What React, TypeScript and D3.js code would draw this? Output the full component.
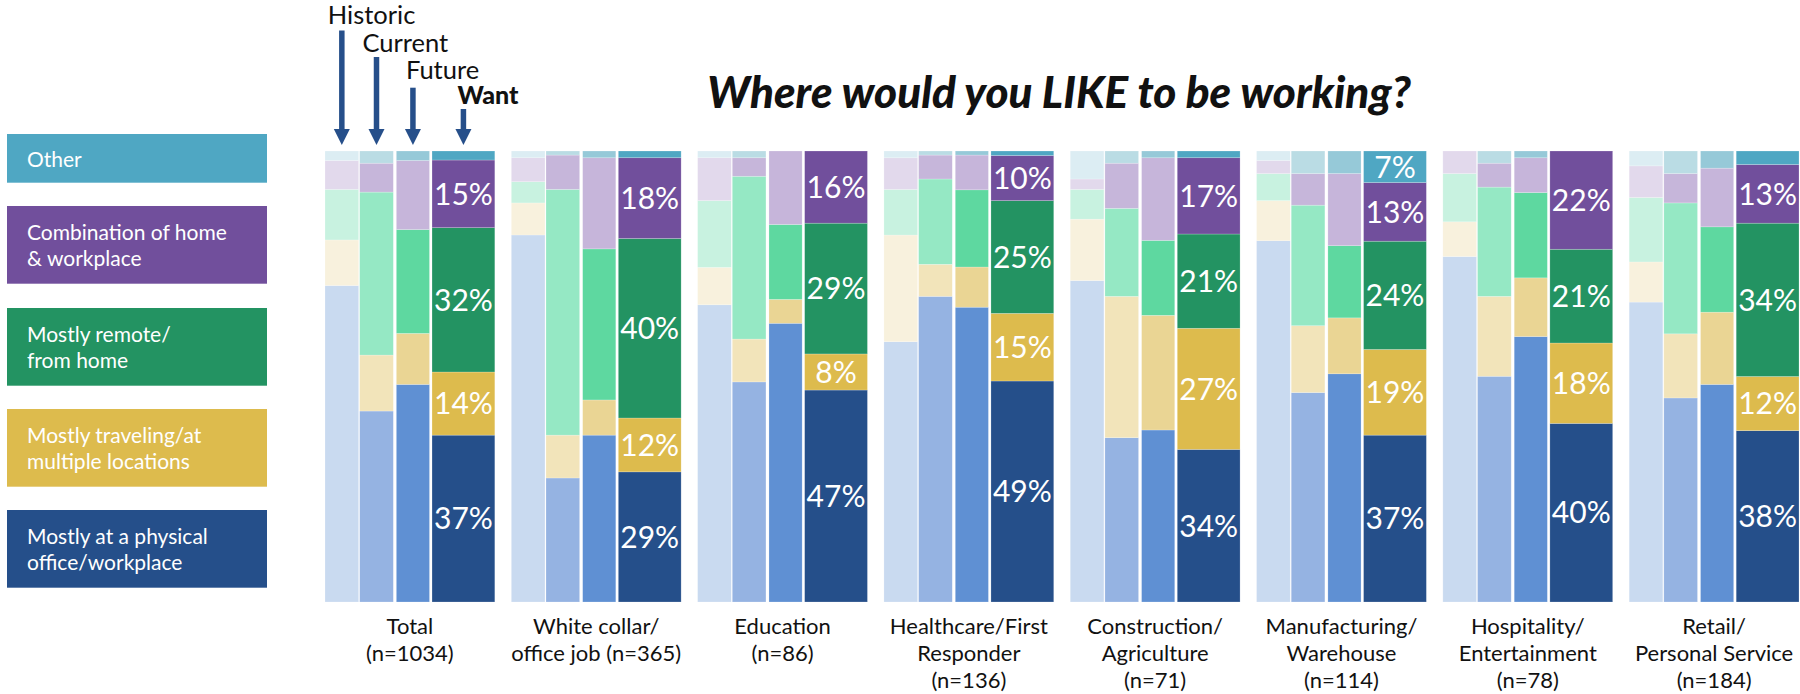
import React from "react";
import * as d3 from "d3";

// Categories (order left to right)
const categories = [
  "Total",
  "White collar",
  "Education",
  "Healthcare",
  "Construction",
  "Manufacturing",
  "Hospitality",
  "Retail",
];
const categoryLabels = [
  ["Total", "(n=1034)"],
  ["White collar/", "office job (n=365)"],
  ["Education", "(n=86)"],
  ["Healthcare/First", "Responder", "(n=136)"],
  ["Construction/", "Agriculture", "(n=71)"],
  ["Manufacturing/", "Warehouse", "(n=114)"],
  ["Hospitality/", "Entertainment", "(n=78)"],
  ["Retail/", "Personal Service", "(n=184)"],
];

const periods = ["Historic", "Current", "Future", "Want"];
// stacking order bottom -> top
const responses = ["Office", "Traveling", "Remote", "Combination", "Other"];
const legendLabels = [
  ["Mostly at a physical", "office/workplace"],
  ["Mostly traveling/at", "multiple locations"],
  ["Mostly remote/", "from home"],
  ["Combination of home", "& workplace"],
  ["Other"],
];

// Values (% of respondents) per category
const historicOffice = [70.1, 81.3, 65.9, 57.6, 71.2, 80.1, 76.6, 66.5];
const historicTraveling = [10.1, 7.1, 8.3, 23.6, 13.6, 8.9, 7.7, 8.9];
const historicRemote = [11.2, 4.7, 14.8, 10.1, 6.6, 6.0, 10.7, 14.3];
const historicCombination = [6.4, 5.3, 9.5, 7.0, 2.3, 2.9, 5.0, 7.0];
const historicOther = [2.1, 1.5, 1.5, 1.5, 6.2, 2.1, 0, 3.3];

const currentOffice = [42.3, 27.5, 48.8, 67.7, 36.4, 46.4, 50.0, 45.2];
const currentTraveling = [12.4, 9.5, 9.5, 7.1, 31.3, 14.8, 17.7, 14.2];
const currentRemote = [36.1, 54.5, 36.1, 18.9, 19.5, 26.7, 24.2, 29.0];
const currentCombination = [6.4, 7.6, 4.1, 5.3, 10.0, 7.0, 5.3, 6.5];
const currentOther = [2.7, 0.9, 1.5, 0.9, 2.7, 5.0, 2.7, 5.0];

const futureOffice = [48.2, 37.0, 61.8, 65.3, 38.1, 50.6, 58.8, 48.2];
const futureTraveling = [11.3, 7.8, 5.3, 8.9, 25.4, 12.4, 13.0, 16.0];
const futureRemote = [23.0, 33.5, 16.6, 17.1, 16.6, 16.0, 18.9, 18.9];
const futureCombination = [15.3, 20.2, 16.3, 7.7, 18.3, 16.0, 7.7, 13.0];
const futureOther = [2.1, 1.5, 0, 0.9, 1.5, 5.0, 1.5, 3.8];

const wantOffice = [37, 29, 47, 49, 34, 37, 40, 38];
const wantTraveling = [14, 12, 8, 15, 27, 19, 18, 12];
const wantRemote = [32, 40, 29, 25, 21, 24, 21, 34];
const wantCombination = [15, 18, 16, 10, 17, 13, 22, 13];
const wantOther = [2, 1.5, 0, 1, 1.5, 7, 0, 3];

const seriesByPeriod: Record<string, number[][]> = {
  Historic: [historicOffice, historicTraveling, historicRemote, historicCombination, historicOther],
  Current: [currentOffice, currentTraveling, currentRemote, currentCombination, currentOther],
  Future: [futureOffice, futureTraveling, futureRemote, futureCombination, futureOther],
  Want: [wantOffice, wantTraveling, wantRemote, wantCombination, wantOther],
};

// Colours (period x response)
const colors: Record<string, string[]> = {
  Historic: ["#C9DAF0", "#F8F1DD", "#C8F2E0", "#E2D9EC", "#DCEDF3"],
  Current: ["#95B3E2", "#F2E4BA", "#95E8C4", "#C6B6DA", "#BADCE4"],
  Future: ["#5F90D3", "#EAD594", "#5ED8A0", "#C6B5DA", "#96C9D8"],
  Want: ["#254F8A", "#DDBB4D", "#239362", "#714F9C", "#4FA7C3"],
};

// layout of the four bars inside a group (in px of a 169px group)
const periodOffsets = [0, 34.5, 71, 106.5];
const periodWidths = [33.5, 33.5, 33, 62.5];
const annotationDx = [-14, -14, -7, -6];
const annotationBaselines = [23.5, 52, 78.5, 104];
const arrowTops = [30.5, 57, 87.7, 109];

const FONT = "Lato, 'Open Sans', sans-serif";
const ARROW = "#264F8A";

export default function App() {
  const width = 1800;
  const height = 694;
  const x = d3
    .scaleBand<string>()
    .domain(categories)
    .range([325, 1799])
    .paddingInner(0.0885)
    .paddingOuter(0);
  const bw = x.bandwidth();
  const k = bw / 169;
  const y = d3.scaleLinear().domain([0, 1]).range([602, 151]);

  const stacked = periods.map((p) => {
    const rows = categories.map((c, i) => {
      const r: any = { category: c };
      responses.forEach((key, j) => (r[key] = seriesByPeriod[p][j][i]));
      return r;
    });
    return d3.stack<any>().keys(responses).offset(d3.stackOffsetExpand)(rows);
  });

  const barX = (cat: string, pi: number) => (x(cat) as number) + periodOffsets[pi] * k;

  // legend boxes
  const legendTop = [510, 409, 308, 206, 134];
  const legendH = [77.7, 77.7, 77.7, 77.7, 48.7];

  return (
    <div>
      <style>{`body{margin:0}`}</style>
      <svg width={width} height={height} style={{ display: "block", background: "#fff" }}>
        {/* Title */}
        <text
          x={1059}
          y={108}
          textAnchor="middle"
          fontFamily={FONT}
          fontWeight={900}
          fontStyle="italic"
          fontSize={44}
          fill="#111"
        >
          Where would you LIKE to be working?
        </text>

        {/* Legend */}
        {responses.map((r, j) => {
          const top = legendTop[j];
          const h = legendH[j];
          const c = top + h / 2;
          const lines = legendLabels[j];
          return (
            <g key={r}>
              <rect x={7} y={top} width={260} height={h} fill={colors.Want[j]} />
              {lines.map((t, li) => (
                <text
                  key={li}
                  x={27}
                  y={lines.length === 1 ? c + 9 : c - 5 + li * 26.6}
                  fontFamily={FONT}
                  fontSize={21}
                  fill="#fff"
                >
                  {t}
                </text>
              ))}
            </g>
          );
        })}

        {/* Bars */}
        {periods.map((p, pi) =>
          stacked[pi].map((s, j) => (
            <g key={p + s.key} fill={colors[p][j]}>
              {s.map((d, i) => {
                const h = y(d[0]) - y(d[1]);
                if (h <= 0) return null;
                return (
                  <rect
                    key={i}
                    x={barX(categories[i], pi)}
                    y={y(d[1])}
                    width={periodWidths[pi] * k}
                    height={h}
                    stroke="#fff"
                    strokeOpacity={0.35}
                    strokeWidth={0.6}
                  />
                );
              })}
            </g>
          ))
        )}

        {/* Want labels */}
        {stacked[3].map((s, j) =>
          s.map((d, i) => {
            const v = seriesByPeriod.Want[j][i];
            if (v < 5) return null;
            return (
              <text
                key={s.key + i}
                x={barX(categories[i], 3) + (periodWidths[3] * k) / 2}
                y={(y(d[0]) + y(d[1])) / 2}
                dy="0.36em"
                textAnchor="middle"
                fontFamily={FONT}
                fontWeight={400}
                fontSize={30}
                fill="#fff"
              >
                {`${v}%`}
              </text>
            );
          })
        )}

        {/* Category labels */}
        {categories.map((c, i) => (
          <text
            key={c}
            x={(x(c) as number) + bw / 2}
            textAnchor="middle"
            fontFamily={FONT}
            fontSize={22}
            fill="#111"
          >
            {categoryLabels[i].map((t, li) => (
              <tspan key={li} x={(x(c) as number) + bw / 2} y={634 + li * 27.2}>
                {t}
              </tspan>
            ))}
          </text>
        ))}

        {/* Period annotations with arrows over first group */}
        {periods.map((p, pi) => {
          const cx = barX(categories[0], pi) + (periodWidths[pi] * k) / 2;
          const tip = y(1) - 6;
          return (
            <g key={p}>
              <text
                x={cx + annotationDx[pi]}
                y={annotationBaselines[pi]}
                fontFamily={FONT}
                fontSize={pi === 3 ? 25 : 25.5}
                fontWeight={pi === 3 ? 900 : 400}
                fill="#111"
              >
                {p}
              </text>
              <line x1={cx} x2={cx} y1={arrowTops[pi]} y2={tip - 14} stroke={ARROW} strokeWidth={5.5} />
              <path d={`M${cx - 8},${tip - 16} L${cx + 8},${tip - 16} L${cx},${tip} Z`} fill={ARROW} />
            </g>
          );
        })}
      </svg>
    </div>
  );
}
